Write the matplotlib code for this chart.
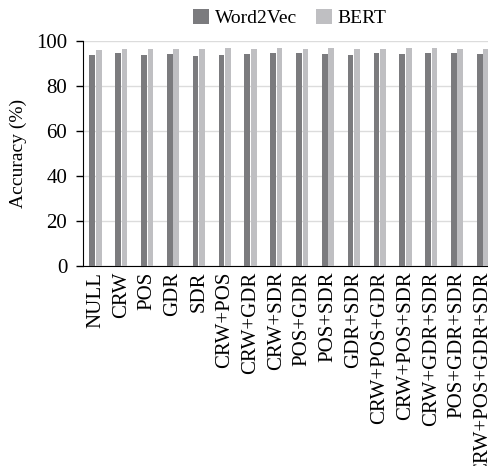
import numpy as np
import matplotlib.pyplot as plt

plt.rcParams['font.family'] = ['Liberation Serif', 'DejaVu Serif']

categories = ['NULL', 'CRW', 'POS', 'GDR', 'SDR', 'CRW+POS', 'CRW+GDR', 'CRW+SDR',
              'POS+GDR', 'POS+SDR', 'GDR+SDR', 'CRW+POS+GDR', 'CRW+POS+SDR',
              'CRW+GDR+SDR', 'POS+GDR+SDR', 'CRW+POS+GDR+SDR']
word2vec = [93.8, 94.8, 93.8, 94.4, 93.3, 93.8, 94.4, 94.8,
            94.8, 94.4, 93.8, 94.8, 94.1, 94.8, 94.8, 94.4]
bert = [96.0, 96.4, 96.4, 96.4, 96.4, 96.9, 96.4, 96.9,
        96.4, 96.9, 96.4, 96.4, 96.9, 96.9, 96.4, 96.4]

fig = plt.figure(figsize=(4.89, 4.66), dpi=100)
# axes runs past the right edge, as in the cropped original
ax = fig.add_axes([0.169, 0.429, 0.845, 0.483])

x = np.arange(len(categories))
w = 0.22
ax.bar(x - 0.125, word2vec, w, color='#7b7b7e', label='Word2Vec', zorder=3)
ax.bar(x + 0.125, bert, w, color='#bfbfc2', label='BERT', zorder=3)

ax.set_xlim(-0.5, len(categories) - 0.5)
ax.set_ylim(0, 100)
ax.set_yticks(range(0, 101, 20))
ax.yaxis.grid(True, color='#dcdcdc', linewidth=1, zorder=0)
ax.set_xticks(x)
ax.set_xticklabels(categories, rotation=90, fontsize=15)
ax.tick_params(axis='y', labelsize=15, length=5, width=1, pad=6)
ax.tick_params(axis='x', length=0, pad=4)
ax.set_ylabel('Accuracy (%)', fontsize=14)
ax.yaxis.set_label_coords(-0.135, 0.5)

for s in ['top', 'right']:
    ax.spines[s].set_visible(False)
ax.spines['left'].set_color('black')
ax.spines['bottom'].set_color('black')

fig.legend(loc='center', bbox_to_anchor=(290 / 489, 1 - 18 / 466), ncol=2,
           frameon=False, fontsize=14, handlelength=0.8, handleheight=0.8,
           handletextpad=0.3, columnspacing=1.0)

fig.savefig('out.png', dpi=100)
